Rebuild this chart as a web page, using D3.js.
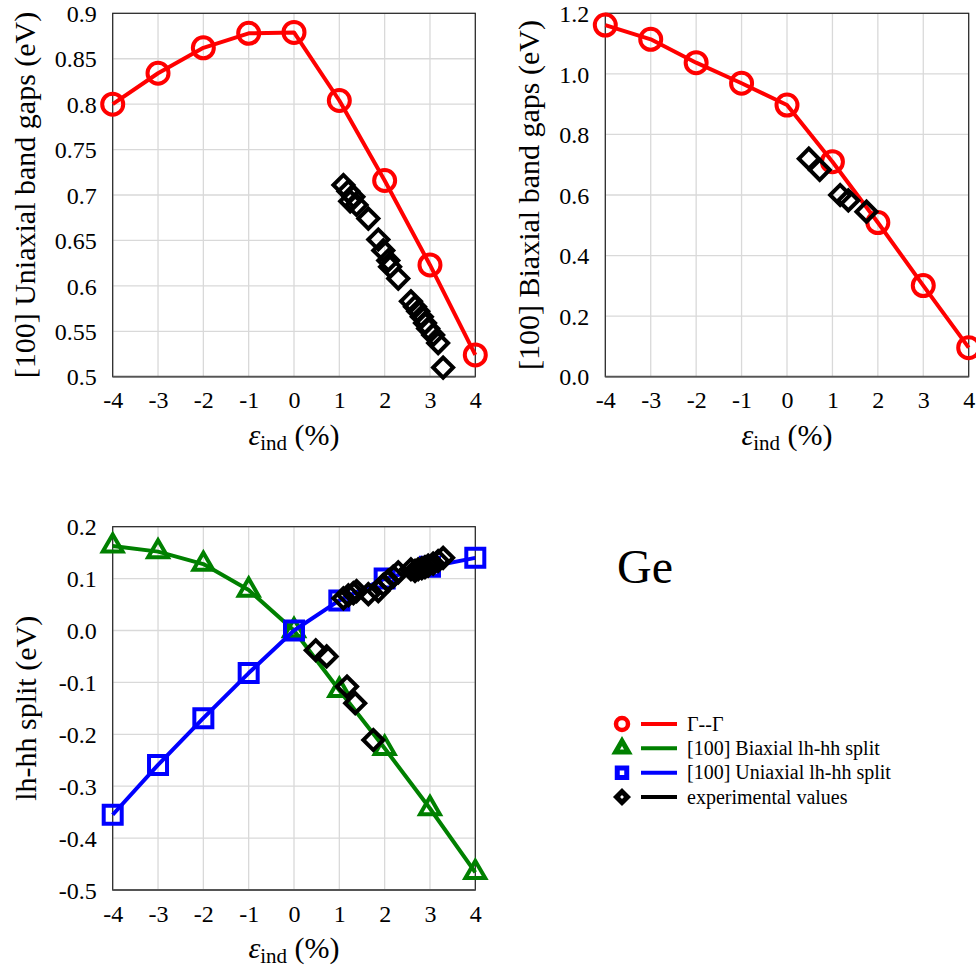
<!DOCTYPE html>
<html>
<head>
<meta charset="utf-8">
<script src="https://cdn.jsdelivr.net/npm/d3@7"></script>
<style>
  html, body { margin: 0; padding: 0; background: #fff; }
  svg { display: block; }
  svg text { font-family: "Liberation Serif", "DejaVu Serif", serif; fill: #000; }
</style>
</head>
<body>
<svg id="chart" width="976" height="972"></svg>
<script>
// ---------- DATA ----------
const strain = [-4, -3, -2, -1, 0, 1, 2, 3, 4];
const xTickLabels = ["-4", "-3", "-2", "-1", "0", "1", "2", "3", "4"];

// [100] uniaxial band gaps (Γ--Γ)
const uniGap = [0.800, 0.834, 0.862, 0.878, 0.879, 0.804, 0.716, 0.623, 0.524];
const uniTicks = [0.5, 0.55, 0.6, 0.65, 0.7, 0.75, 0.8, 0.85, 0.9];
const uniTickLabels = ["0.5", "0.55", "0.6", "0.65", "0.7", "0.75", "0.8", "0.85", "0.9"];
const expUniStrain = [1.09, 1.20, 1.24, 1.31, 1.38, 1.64, 1.86, 1.97, 2.08, 2.12, 2.30, 2.58, 2.67, 2.74, 2.82, 2.89, 2.96, 3.07, 3.18, 3.29];
const expUniGap    = [0.711, 0.704, 0.693, 0.698, 0.689, 0.674, 0.651, 0.639, 0.628, 0.621, 0.608, 0.583, 0.577, 0.572, 0.566, 0.559, 0.553, 0.546, 0.537, 0.510];

// [100] biaxial band gaps (Γ--Γ)
const biGap = [1.161, 1.114, 1.037, 0.969, 0.897, 0.710, 0.509, 0.301, 0.096];
const biTicks = [0.0, 0.2, 0.4, 0.6, 0.8, 1.0, 1.2];
const biTickLabels = ["0.0", "0.2", "0.4", "0.6", "0.8", "1.0", "1.2"];
const expBiStrain = [0.48, 0.72, 1.17, 1.35, 1.75];
const expBiGap    = [0.720, 0.683, 0.600, 0.582, 0.545];

// lh-hh split
const biSplit  = [0.163, 0.152, 0.128, 0.078, 0.0, -0.115, -0.227, -0.343, -0.466];
const uniSplit = [-0.355, -0.259, -0.169, -0.082, 0.0, 0.058, 0.100, 0.123, 0.140];
const splitTicks = [-0.5, -0.4, -0.3, -0.2, -0.1, 0.0, 0.1, 0.2];
const splitTickLabels = ["-0.5", "-0.4", "-0.3", "-0.2", "-0.1", "0.0", "0.1", "0.2"];
const expUniSplitStrain = [1.09, 1.20, 1.31, 1.38, 1.64, 1.86, 1.97, 2.08, 2.19, 2.30, 2.58, 2.67, 2.74, 2.82, 2.89, 2.96, 3.07, 3.18, 3.29];
const expUniSplit       = [0.062, 0.068, 0.072, 0.076, 0.070, 0.076, 0.088, 0.096, 0.104, 0.112, 0.118, 0.115, 0.118, 0.120, 0.122, 0.125, 0.129, 0.134, 0.140];
const expBiSplitStrain = [0.48, 0.72, 1.17, 1.35, 1.75];
const expBiSplit       = [-0.038, -0.050, -0.108, -0.140, -0.211];

const legendLabels = ["\u0393--\u0393", "[100] Biaxial lh-hh split", "[100] Uniaxial lh-hh split", "experimental values"];
const legendColors = ["#ff0000", "#008000", "#0000ff", "#000000"];
const legendShapes = ["circle", "triangle", "square", "diamond"];

// ---------- DRAW ----------
const SERIF = '"Liberation Serif", "DejaVu Serif", serif';
const svg = d3.select("#chart");
const RED = "#ff0000", GREEN = "#008000", BLUE = "#0000ff";

function zip(xs, ys) { return xs.map((x, i) => [x, ys[i]]); }

function marker(g, shape, color, pts, x, y, opt) {
  opt = opt || {};
  const sw = opt.sw || 4;
  if (shape === "circle") {
    g.selectAll(null).data(pts).enter().append("circle")
      .attr("cx", d => x(d[0])).attr("cy", d => y(d[1]))
      .attr("r", opt.r || 10.5)
      .attr("fill", opt.fill || "none").attr("stroke", color).attr("stroke-width", sw);
  } else {
    let sym, rot = 0;
    if (shape === "triangle") sym = d3.symbol(d3.symbolTriangle, opt.size || 170);
    if (shape === "square") sym = d3.symbol(d3.symbolSquare, opt.size || 324);
    if (shape === "diamond") { sym = d3.symbol(d3.symbolSquare, opt.size || 200); rot = 45; }
    g.selectAll(null).data(pts).enter().append("path")
      .attr("d", sym())
      .attr("transform", d => `translate(${x(d[0])},${y(d[1])}) rotate(${rot})`)
      .attr("fill", opt.fill || "none").attr("stroke", color).attr("stroke-width", sw)
      .attr("stroke-linejoin", "miter");
  }
}

function panel(cfg) {
  const x = d3.scaleLinear().domain([-4, 4]).range([cfg.x0, cfg.x1]);
  const y = d3.scaleLinear().domain(cfg.yDomain).range([cfg.y1, cfg.y0]);
  const g = svg.append("g");

  // gridlines
  g.append("g").selectAll("line").data(strain).enter().append("line")
    .attr("x1", d => x(d)).attr("x2", d => x(d))
    .attr("y1", cfg.y0).attr("y2", cfg.y1)
    .attr("stroke", "#d9d9d9").attr("stroke-width", 1.3);
  g.append("g").selectAll("line").data(cfg.yTicks).enter().append("line")
    .attr("x1", cfg.x0).attr("x2", cfg.x1)
    .attr("y1", d => y(d)).attr("y2", d => y(d))
    .attr("stroke", "#d9d9d9").attr("stroke-width", 1.3);

  // frame
  g.append("rect").attr("x", cfg.x0).attr("y", cfg.y0)
    .attr("width", cfg.x1 - cfg.x0).attr("height", cfg.y1 - cfg.y0)
    .attr("fill", "none").attr("stroke", "#222").attr("stroke-width", 1.2);
  g.append("line").attr("x1", cfg.x0).attr("x2", cfg.x1)
    .attr("y1", cfg.y1).attr("y2", cfg.y1).attr("stroke", "#555").attr("stroke-width", 1.8);

  // axes (tick labels via d3 axes, no domain / tick lines)
  const xAxis = d3.axisBottom(x).tickValues(strain).tickSize(0).tickPadding(0)
    .tickFormat((d, i) => xTickLabels[i]);
  const ga = g.append("g").attr("transform", `translate(0,${cfg.y1})`).call(xAxis);
  ga.attr("font-family", SERIF).attr("font-size", 24);
  ga.select(".domain").remove();
  ga.selectAll("text").attr("y", 31.5).attr("dy", 0)
    .style("font-family", SERIF).style("font-size", "24px").attr("fill", "#000");

  const yAxis = d3.axisLeft(y).tickValues(cfg.yTicks).tickSize(0).tickPadding(16)
    .tickFormat((d, i) => cfg.yTickLabels[i]);
  const gy = g.append("g").attr("transform", `translate(${cfg.x0},0)`).call(yAxis);
  gy.attr("font-family", SERIF).attr("font-size", 24);
  gy.select(".domain").remove();
  gy.selectAll("text").attr("dy", "0.34em")
    .style("font-family", SERIF).style("font-size", "24px").attr("fill", "#000");

  // axis titles
  const xt = g.append("text")
    .attr("x", (cfg.x0 + cfg.x1) / 2).attr("y", cfg.y1 + 68)
    .attr("text-anchor", "middle").style("font-size", "30px").style("font-family", SERIF);
  xt.append("tspan").text("\u03b5").style("font-style", "italic");
  xt.append("tspan").text("ind").attr("baseline-shift", "-5").style("font-size", "21px");
  xt.append("tspan").text(" (%)").attr("baseline-shift", "0");

  g.append("text")
    .attr("transform", `translate(${cfg.titleX},${(cfg.y0 + cfg.y1) / 2}) rotate(-90)`)
    .attr("text-anchor", "middle").style("font-size", "30px").style("font-family", SERIF)
    .text(cfg.yTitle);

  return { x, y, g };
}

// Panel 1: uniaxial band gaps
const p1 = panel({ x0: 112.7, x1: 475.3, y0: 13.3, y1: 376.7, yDomain: [0.5, 0.9],
  yTicks: uniTicks, yTickLabels: uniTickLabels, titleX: 35, yTitle: "[100] Uniaxial band gaps (eV)" });
const line1 = d3.line().x(d => p1.x(d[0])).y(d => p1.y(d[1]));
p1.g.append("path").attr("d", line1(zip(strain, uniGap))).attr("fill", "none")
  .attr("stroke", RED).attr("stroke-width", 4).attr("stroke-linejoin", "round");
marker(p1.g, "circle", RED, zip(strain, uniGap), p1.x, p1.y);
marker(p1.g, "diamond", "#000", zip(expUniStrain, expUniGap), p1.x, p1.y);

// Panel 2: biaxial band gaps
const p2 = panel({ x0: 605.3, x1: 968.7, y0: 13.3, y1: 376.7, yDomain: [0, 1.2],
  yTicks: biTicks, yTickLabels: biTickLabels, titleX: 539, yTitle: "[100] Biaxial band gaps (eV)" });
const line2 = d3.line().x(d => p2.x(d[0])).y(d => p2.y(d[1]));
p2.g.append("path").attr("d", line2(zip(strain, biGap))).attr("fill", "none")
  .attr("stroke", RED).attr("stroke-width", 4).attr("stroke-linejoin", "round");
marker(p2.g, "circle", RED, zip(strain, biGap), p2.x, p2.y);
marker(p2.g, "diamond", "#000", zip(expBiStrain, expBiGap), p2.x, p2.y);

// Panel 3: lh-hh split
const p3 = panel({ x0: 112.7, x1: 475.3, y0: 526.7, y1: 890, yDomain: [-0.5, 0.2],
  yTicks: splitTicks, yTickLabels: splitTickLabels, titleX: 36, yTitle: "lh-hh split (eV)" });
const line3 = d3.line().x(d => p3.x(d[0])).y(d => p3.y(d[1]));
p3.g.append("path").attr("d", line3(zip(strain, biSplit))).attr("fill", "none")
  .attr("stroke", GREEN).attr("stroke-width", 4).attr("stroke-linejoin", "round");
marker(p3.g, "triangle", GREEN, zip(strain, biSplit), p3.x, p3.y);
p3.g.append("path").attr("d", line3(zip(strain, uniSplit))).attr("fill", "none")
  .attr("stroke", BLUE).attr("stroke-width", 4).attr("stroke-linejoin", "round");
marker(p3.g, "square", BLUE, zip(strain, uniSplit), p3.x, p3.y);
marker(p3.g, "diamond", "#000", zip(expUniSplitStrain, expUniSplit), p3.x, p3.y);
marker(p3.g, "diamond", "#000", zip(expBiSplitStrain, expBiSplit), p3.x, p3.y);

// "Ge" label
svg.append("text").attr("x", 617).attr("y", 583).style("font-size", "48px").style("font-family", SERIF).text("Ge");

// Legend
const lg = svg.append("g");
const rowY = d3.scaleLinear().domain([0, 3]).range([724, 797]);
legendLabels.forEach((lab, i) => {
  const cy = rowY(i);
  const fx = () => 622, fy = () => cy;
  const opt = { sw: 4.5 };
  if (legendShapes[i] === "circle") opt.r = 6;
  if (legendShapes[i] === "triangle") { opt.size = 70; opt.sw = 5; }
  if (legendShapes[i] === "square") { opt.size = 90; opt.sw = 5; }
  if (legendShapes[i] === "diamond") { opt.size = 60; opt.sw = 5; }
  marker(lg, legendShapes[i], legendColors[i], [[0, 0]], fx, fy, opt);
  lg.append("line").attr("x1", 641).attr("x2", 677).attr("y1", cy).attr("y2", cy)
    .attr("stroke", legendColors[i]).attr("stroke-width", 4);
  lg.append("text").attr("x", 687).attr("y", cy + 6.5).style("font-size", "20px").style("font-family", SERIF).text(lab);
});
</script>
</body>
</html>
